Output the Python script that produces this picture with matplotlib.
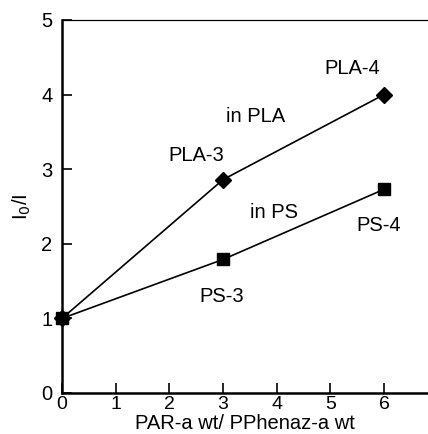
import matplotlib
matplotlib.use("Agg")
import matplotlib.pyplot as plt

plt.rcParams['font.family'] = ['Liberation Sans', 'DejaVu Sans']

# data
ratio = [0, 3, 6]
pla = [1.0, 2.86, 4.0]
ps = [1.0, 1.79, 2.73]

fig = plt.figure(figsize=(4.28, 4.34), dpi=100)
ax = fig.add_axes([62/428, 41/434, 366/428, 373/434])

ax.plot(ratio, pla, color='black', lw=1.2, marker='D', ms=8, mfc='black', mec='black', clip_on=False, zorder=3)
ax.plot(ratio, ps, color='black', lw=1.2, marker='s', ms=8, mfc='black', mec='black', clip_on=False, zorder=4)

ax.set_xlim(0, 6.82)
ax.set_ylim(0, 5)
ax.set_xticks(range(0, 7))
ax.set_yticks(range(0, 6))

ax.spines['right'].set_visible(False)
ax.spines['left'].set_linewidth(1.8)
ax.spines['bottom'].set_linewidth(1.8)
ax.spines['top'].set_linewidth(0.9)

fs = 14.5
ax.tick_params(direction='in', length=7, width=1.2, labelsize=fs)
ax.tick_params(axis='x', pad=2, labelsize=14)
ax.tick_params(axis='y', pad=7)

ax.set_xlabel('PAR-a wt/ PPhenaz-a wt', fontsize=fs, labelpad=1)
ax.set_ylabel('I$_0$/I', fontsize=fs, labelpad=6)

ax.text(5.4, 4.35, 'PLA-4', fontsize=fs, ha='center', va='center')
ax.text(3.6, 3.7, 'in PLA', fontsize=fs, ha='center', va='center')
ax.text(2.5, 3.18, 'PLA-3', fontsize=fs, ha='center', va='center')
ax.text(3.95, 2.42, 'in PS', fontsize=fs, ha='center', va='center')
ax.text(5.9, 2.25, 'PS-4', fontsize=fs, ha='center', va='center')
ax.text(2.98, 1.29, 'PS-3', fontsize=fs, ha='center', va='center')

fig.savefig('out.png', dpi=100)
